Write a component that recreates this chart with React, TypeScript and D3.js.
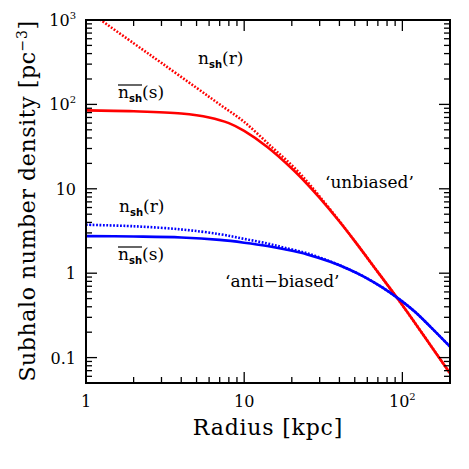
import React from "react"
import * as d3 from "d3"

// radius [kpc] vs subhalo number density [pc^-3]
const redSolidR = [1, 2, 4, 6, 8, 10, 14, 20, 25, 30, 40, 50, 70, 94, 130, 200]
const redSolidN = [85, 83, 78, 70, 60, 48.5, 31.3, 17.4, 11.4, 7.8, 4.1, 2.4, 1.03, 0.49, 0.208, 0.065]

const redDotR = [1, 2, 3, 5, 7, 10, 15, 20, 25, 30, 40, 50, 70, 94, 130, 200]
const redDotN = [1330, 530, 310, 157, 100, 62, 31, 19, 12.2, 8.1, 4.15, 2.4, 1.03, 0.49, 0.208, 0.065]

const blueSolidR = [1, 2, 4, 7, 10, 14, 18, 25, 35, 45, 57, 75, 94, 120, 150, 200]
const blueSolidN = [2.75, 2.72, 2.65, 2.48, 2.3, 2.1, 1.92, 1.67, 1.365, 1.13, 0.913, 0.675, 0.503, 0.349, 0.233, 0.135]

const blueDotR = [1, 2, 4, 7, 10, 14, 18, 25, 35, 45, 57, 75, 94, 120, 150, 200]
const blueDotN = [3.75, 3.6, 3.3, 2.9, 2.55, 2.25, 2.0, 1.72, 1.38, 1.13, 0.913, 0.675, 0.503, 0.349, 0.233, 0.135]

const xMajor = [1, 10, 100]
const xLabels = [["1", ""], ["10", ""], ["10", "2"]]
const yMajor = [0.1, 1, 10, 100, 1000]
const yLabels = [["0.1", ""], ["1", ""], ["10", ""], ["10", "2"], ["10", "3"]]

const W = 469
const H = 469
const left = 86, right = 450, top = 20, bottom = 383
const font = "DejaVu Serif"

const App = () => {
    const x = d3.scaleLog().domain([1, 200]).range([left, right])
    const y = d3.scaleLog().domain([0.05, 1000]).range([bottom, top])

    const line = d3.line<[number, number]>()
        .x(d => x(d[0]))
        .y(d => y(d[1]))
        .curve(d3.curveCatmullRom.alpha(0.5))
    const path = (rs: number[], ns: number[]) => line(rs.map((r, i) => [r, ns[i]]) as [number, number][]) || ""

    const minorX: number[] = []
    for (let e = 0; e <= 2; e++) for (let k = 1; k <= 9; k++) {
        const v = k * Math.pow(10, e)
        if (v <= 200 && !xMajor.includes(v)) minorX.push(v)
    }
    const minorY: number[] = []
    for (let e = -2; e <= 2; e++) for (let k = 1; k <= 9; k++) {
        const v = +(k * Math.pow(10, e)).toPrecision(3)
        if (v >= 0.05 && v <= 1000 && !yMajor.includes(v)) minorY.push(v)
    }

    const major = 11, minor = 6

    const label = (lx: number, ly: number, over: boolean, arg: string) => (
        <g>
            <text x={lx} y={ly} fontFamily={font} fontSize={17} fill="#000">
                n<tspan dy={4} fontSize={10} fontWeight="bold" fontFamily="DejaVu Sans">sh</tspan>
                <tspan dy={-4}>({arg})</tspan>
            </text>
            {over && <line x1={lx} x2={lx + 24} y1={ly - 13} y2={ly - 13} stroke="#000" strokeWidth={1.2} />}
        </g>
    )

    return (
        <svg width={W} height={H} style={{ position: "absolute", left: 0, top: 0, background: "#fff" }}>
            <defs>
                <clipPath id="plot">
                    <rect x={left} y={top} width={right - left} height={bottom - top} />
                </clipPath>
            </defs>

            <g clipPath="url(#plot)" fill="none" strokeLinejoin="round">
                <path d={path(redDotR, redDotN)} stroke="#ff0000" strokeWidth={2.6} strokeDasharray="1.8 1.6" />
                <path d={path(blueDotR, blueDotN)} stroke="#0000ff" strokeWidth={2.6} strokeDasharray="1.8 1.6" />
                <path d={path(redSolidR, redSolidN)} stroke="#ff0000" strokeWidth={2.6} />
                <path d={path(blueSolidR, blueSolidN)} stroke="#0000ff" strokeWidth={2.6} />
            </g>

            {/* ticks on all four sides, pointing in */}
            <g stroke="#000" strokeWidth={1.3}>
                {xMajor.map(v => (
                    <g key={"xm" + v}>
                        <line x1={x(v)} x2={x(v)} y1={bottom} y2={bottom - major} />
                        <line x1={x(v)} x2={x(v)} y1={top} y2={top + major} />
                    </g>
                ))}
                {minorX.map(v => (
                    <g key={"xn" + v}>
                        <line x1={x(v)} x2={x(v)} y1={bottom} y2={bottom - minor} />
                        <line x1={x(v)} x2={x(v)} y1={top} y2={top + minor} />
                    </g>
                ))}
                {yMajor.map(v => (
                    <g key={"ym" + v}>
                        <line x1={left} x2={left + major} y1={y(v)} y2={y(v)} />
                        <line x1={right} x2={right - major} y1={y(v)} y2={y(v)} />
                    </g>
                ))}
                {minorY.map(v => (
                    <g key={"yn" + v}>
                        <line x1={left} x2={left + minor} y1={y(v)} y2={y(v)} />
                        <line x1={right} x2={right - minor} y1={y(v)} y2={y(v)} />
                    </g>
                ))}
            </g>
            <rect x={left} y={top} width={right - left} height={bottom - top} fill="none" stroke="#000" strokeWidth={2} />

            <g fontFamily={font} fontSize={16} fill="#000">
                {xMajor.map((v, i) => (
                    <text key={"xl" + v} x={x(v)} y={bottom + 24} textAnchor="middle">
                        {xLabels[i][0]}
                        {xLabels[i][1] && <tspan dy={-7} fontSize={10}>{xLabels[i][1]}</tspan>}
                    </text>
                ))}
                {yMajor.map((v, i) => (
                    <text key={"yl" + v} x={76} y={y(v) + 6} textAnchor="end">
                        {yLabels[i][0]}
                        {yLabels[i][1] && <tspan dy={-7} fontSize={10}>{yLabels[i][1]}</tspan>}
                    </text>
                ))}
            </g>

            <text x={268} y={435} textAnchor="middle" fontFamily={font} fontSize={22} letterSpacing={0.8} fill="#000">
                Radius [kpc]
            </text>
            <text transform={`translate(35,201) rotate(-90)`} textAnchor="middle"
                fontFamily={font} fontSize={22} letterSpacing={0.6} fill="#000">
                Subhalo number density [pc<tspan dy={-8} fontSize={14}>−3</tspan><tspan dy={8}>]</tspan>
            </text>

            {label(198, 64, false, "r")}
            {label(118, 98, true, "s")}
            {label(119, 212, false, "r")}
            {label(118, 260, true, "s")}

            <g fontFamily={font} fontSize={17} fill="#000">
                <text x={325} y={188}>‘unbiased’</text>
                <text x={225} y={287}>‘anti−biased’</text>
            </g>
        </svg>
    )
}

export default App
